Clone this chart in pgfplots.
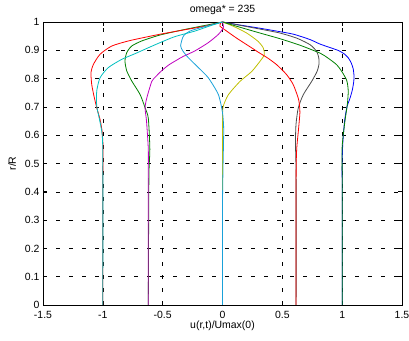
\documentclass[border=0pt]{standalone}
\usepackage{fontspec}
\setmainfont{Liberation Sans}
\usepackage{pgfplots}
\pgfplotsset{compat=1.18}
\definecolor{mblue}{rgb}{0,0,1}
\definecolor{mgreen}{rgb}{0,0.5,0}
\definecolor{mred}{rgb}{1,0,0}
\definecolor{mcyan}{rgb}{0,0.75,0.75}
\definecolor{mmag}{rgb}{0.75,0,0.75}
\definecolor{myel}{rgb}{0.75,0.75,0}
\definecolor{mgrey}{rgb}{0.3,0.3,0.3}
\definecolor{mlblue}{rgb}{0.1,0.63,0.85}
\begin{document}
\begin{tikzpicture}
\path[use as bounding box] (-43bp,-36bp) rectangle (366bp,305bp);
\begin{axis}[
  scale only axis, width=359bp, height=283bp,
  at={(0,0)}, anchor=south west,
  xmin=-1.5, xmax=1.5, ymin=0, ymax=1,
  xtick={-1.5,-1,-0.5,0,0.5,1,1.5},
  xticklabels={-1.5,-1,-0.5,0,0.5,1,1.5},
  ytick={0,0.1,0.2,0.3,0.4,0.5,0.6,0.7,0.8,0.9,1},
  yticklabels={0,0.1,0.2,0.3,0.4,0.5,0.6,0.7,0.8,0.9,1},
  tick align=inside, major tick length=4bp,
  xmajorgrids, ymajorgrids,
  grid style={black, line width=0.5bp, dash pattern=on 3.5bp off 9.5bp},
  axis line style={line width=0.8bp},
  tick style={black, line width=0.6bp},
  tick label style={font=\fontsize{10.5}{12}\selectfont},
  xticklabel style={yshift=-2.5bp},
  label style={font=\fontsize{10.5}{12}\selectfont},
  title style={font=\fontsize{10.5}{12}\selectfont, yshift=-2bp},
  title={omega* = 235},
  xlabel={u(r,t)/Umax(0)},
  xlabel style={yshift=4bp},
  ylabel={r/R},
  ylabel style={yshift=2bp},
  every axis plot/.append style={line width=0.8bp, no markers, smooth, tension=0.4},
]
% blue (core 1)
\addplot[mblue] coordinates {(1.0,0) (1.0,0.40) (1.0,0.50) (1.005,0.57) (1.02,0.65) (1.04,0.70) (1.065,0.73) (1.085,0.76) (1.097,0.79) (1.099,0.81) (1.092,0.835) (1.075,0.856) (1.05,0.874) (1.015,0.888) (0.97,0.899) (0.91,0.908) (0.815,0.922) (0.731,0.938) (0.592,0.957) (0.45,0.968) (0.313,0.978) (0.15,0.989) (0,1)};
% grey (core 0.615)
\addplot[mgrey] coordinates {(0.615,0) (0.615,0.45) (0.61,0.57) (0.614,0.637) (0.633,0.696) (0.675,0.743) (0.745,0.790) (0.79,0.825) (0.806,0.85) (0.805,0.872) (0.787,0.896) (0.731,0.920) (0.62,0.943) (0.48,0.961) (0.313,0.975) (0.15,0.988) (0,1)};
% yellow (core 0)
\addplot[myel] coordinates {(0,0) (0,0.5) (0,0.65) (0.005,0.70) (0.049,0.743) (0.146,0.790) (0.244,0.825) (0.313,0.861) (0.349,0.884) (0.341,0.908) (0.299,0.931) (0.202,0.961) (0.09,0.985) (0,1)};
% green left (core -0.62)
\addplot[mgreen] coordinates {(-0.62,0) (-0.615,0.45) (-0.607,0.55) (-0.62,0.66) (-0.647,0.697) (-0.689,0.744) (-0.759,0.792) (-0.800,0.827) (-0.815,0.862) (-0.800,0.892) (-0.759,0.915) (-0.675,0.933) (-0.522,0.954) (-0.30,0.975) (0,1)};
% red left (core -1)
\addplot[mred] coordinates {(-1,0) (-1,0.45) (-0.998,0.55) (-1.005,0.61) (-1.023,0.655) (-1.051,0.697) (-1.075,0.74) (-1.093,0.780) (-1.099,0.821) (-1.079,0.850) (-1.023,0.886) (-0.926,0.915) (-0.787,0.933) (-0.647,0.946) (-0.52,0.957) (-0.35,0.970) (-0.15,0.985) (0,1)};
% green right (core 1)
\addplot[mgreen] coordinates {(1.0,0) (1.0,0.45) (1.0,0.56) (1.023,0.649) (1.043,0.708) (1.051,0.755) (1.045,0.78) (1.035,0.797) (1.0,0.823) (0.954,0.849) (0.88,0.873) (0.815,0.89) (0.647,0.918) (0.48,0.941) (0.313,0.961) (0.15,0.981) (0,1)};
% red right (core 0.615)
\addplot[mred] coordinates {(0.615,0) (0.615,0.45) (0.62,0.55) (0.635,0.62) (0.647,0.68) (0.642,0.71) (0.633,0.731) (0.592,0.778) (0.536,0.814) (0.453,0.849) (0.38,0.872) (0.30,0.893) (0.257,0.905) (0.118,0.943) (0.021,0.972) (-0.021,0.985) (-0.015,0.996) (0,1)};
% magenta (core -0.62)
\addplot[mmag] coordinates {(-0.62,0) (-0.62,0.45) (-0.62,0.55) (-0.635,0.65) (-0.647,0.696) (-0.633,0.731) (-0.591,0.790) (-0.56,0.806) (-0.508,0.828) (-0.45,0.848) (-0.38,0.866) (-0.33,0.878) (-0.230,0.898) (-0.119,0.927) (-0.035,0.956) (0.007,0.980) (0,1)};
% light blue (core 0)
\addplot[mlblue] coordinates {(0,0) (0,0.35) (0.005,0.5) (0.01,0.62) (0,0.68) (-0.035,0.744) (-0.119,0.803) (-0.202,0.839) (-0.286,0.874) (-0.33,0.897) (-0.35,0.916) (-0.327,0.950) (-0.272,0.968) (-0.146,0.984) (0,1)};
% cyan (core -1)
\addplot[mcyan] coordinates {(-1,0) (-1,0.5) (-1.005,0.6) (-1.03,0.66) (-1.051,0.703) (-1.051,0.756) (-1.023,0.803) (-0.954,0.839) (-0.842,0.868) (-0.731,0.888) (-0.620,0.909) (-0.522,0.927) (-0.40,0.948) (-0.23,0.968) (-0.1,0.987) (0,1)};
\end{axis}
\end{tikzpicture}
\end{document}
